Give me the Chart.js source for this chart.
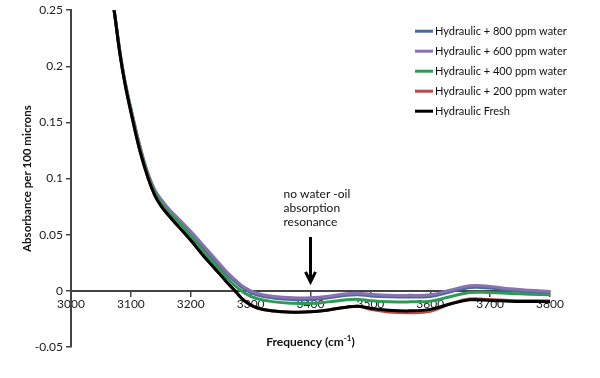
<!DOCTYPE html>
<html>
<head>
<meta charset="utf-8">
<script src="https://cdn.jsdelivr.net/npm/chart.js@4"></script>
<style>
  body { margin: 0; background: #fff; }
  #wrap { width: 600px; height: 378px; }
</style>
</head>
<body>
<div id="wrap"><canvas id="spectrum" width="600" height="378"></canvas></div>
<script>
// frequency (cm-1) and absorbance per 100 microns
const freq = [3066, 3072, 3082, 3090, 3101, 3115, 3129, 3140, 3150, 3165, 3180, 3200, 3220, 3240, 3260, 3274, 3290, 3310, 3340, 3370, 3400, 3430, 3460, 3480, 3500, 3530, 3566, 3600, 3633, 3666, 3700, 3733, 3766, 3800];

const ppm800 = [0.27, 0.25, 0.212, 0.187, 0.160, 0.129, 0.103, 0.089, 0.081, 0.070, 0.062, 0.051, 0.039, 0.027, 0.0155, 0.0085, 0.0015, -0.0035, -0.0065, -0.0077, -0.0076, -0.0062, -0.004, -0.0035, -0.0045, -0.0052, -0.0055, -0.005, -0.001, 0.003, 0.0025, 0.0003, -0.001, -0.002];
const ppm600 = [0.27, 0.25, 0.212, 0.187, 0.160, 0.129, 0.104, 0.090, 0.082, 0.072, 0.064, 0.053, 0.041, 0.029, 0.017, 0.010, 0.003, -0.002, -0.005, -0.0062, -0.0061, -0.0048, -0.0025, -0.0022, -0.003, -0.0038, -0.004, -0.0035, 0.0005, 0.0045, 0.004, 0.0018, 0.0005, -0.0005];
const ppm400 = [0.27, 0.25, 0.211, 0.186, 0.159, 0.127, 0.102, 0.088, 0.079, 0.069, 0.061, 0.049, 0.036, 0.024, 0.012, 0.0045, -0.002, -0.0068, -0.0098, -0.011, -0.0112, -0.0098, -0.008, -0.0076, -0.0088, -0.0098, -0.0098, -0.0092, -0.0052, -0.0015, -0.0015, -0.0023, -0.003, -0.0035];
const ppm200 = [0.27, 0.25, 0.21, 0.185, 0.157, 0.125, 0.100, 0.085, 0.076, 0.066, 0.057, 0.045, 0.032, 0.020, 0.008, 0.0, -0.009, -0.015, -0.018, -0.019, -0.0187, -0.017, -0.0145, -0.0137, -0.0165, -0.0188, -0.0195, -0.0182, -0.0117, -0.0073, -0.0078, -0.0085, -0.0088, -0.009];
const fresh = [0.27, 0.25, 0.21, 0.185, 0.157, 0.125, 0.100, 0.085, 0.076, 0.066, 0.057, 0.045, 0.032, 0.020, 0.008, 0.0, -0.009, -0.015, -0.018, -0.019, -0.0187, -0.017, -0.0145, -0.0137, -0.0155, -0.0172, -0.0178, -0.0165, -0.0117, -0.008, -0.0085, -0.0093, -0.0095, -0.0096];

const seriesNames = ['Hydraulic + 800 ppm water', 'Hydraulic + 600 ppm water', 'Hydraulic + 400 ppm water', 'Hydraulic + 200 ppm water', 'Hydraulic Fresh'];
const seriesData = [ppm800, ppm600, ppm400, ppm200, fresh];
const seriesColors = ['#4a6a9b', '#8a72b0', '#2f9a55', '#b84a4a', '#000000'];

const noteLines = ['no water -oil', 'absorption', 'resonance'];
const noteFreq = 3400;

const FONT = 'Lato, "Open Sans", sans-serif';

// legend drawn inside the plot, top right
const insideLegend = {
    id: 'insideLegend',
    afterDraw(chart) {
        const c = chart.ctx;
        const area = chart.chartArea;
        const x0 = area.right - 135;
        c.save();
        c.font = '11px ' + FONT;
        c.textBaseline = 'middle';
        c.fillStyle = '#111';
        chart.data.datasets.forEach((ds, i) => {
            const y = area.top + 21 + i * 20;
            c.strokeStyle = ds.borderColor;
            c.lineWidth = 3;
            c.beginPath();
            c.moveTo(x0, y);
            c.lineTo(x0 + 18, y);
            c.stroke();
            c.fillText(ds.label, x0 + 20, y);
        });
        c.restore();
    }
};

// the arrow with its note
const arrowNote = {
    id: 'arrowNote',
    afterDraw(chart) {
        const c = chart.ctx;
        const xs = chart.scales.x, ys = chart.scales.y;
        const x = xs.getPixelForValue(noteFreq);
        const yTop = ys.getPixelForValue(0.048);
        const yBot = ys.getPixelForValue(0.008);
        c.save();
        c.strokeStyle = '#000';
        c.lineWidth = 3;
        c.beginPath();
        c.moveTo(x, yTop);
        c.lineTo(x, yBot);
        c.moveTo(x - 5, yBot - 10);
        c.lineTo(x, yBot);
        c.lineTo(x + 5, yBot - 10);
        c.stroke();
        c.font = '12px ' + FONT;
        c.fillStyle = '#111';
        c.textBaseline = 'middle';
        noteLines.forEach((t, i) => {
            c.fillText(t, x - 27, yTop - 43 + i * 14);
        });
        c.restore();
    }
};

// x title sits at the bottom of the plot, not under the zero line
const xTitle = {
    id: 'xTitle',
    afterDraw(chart) {
        const c = chart.ctx;
        const area = chart.chartArea;
        const main = 'Frequency (cm', sup = '-1', tail = ')';
        c.save();
        c.fillStyle = '#111';
        c.textBaseline = 'middle';
        c.font = 'bold 12px ' + FONT;
        const w1 = c.measureText(main).width, w3 = c.measureText(tail).width;
        c.font = 'bold 8px ' + FONT;
        const w2 = c.measureText(sup).width;
        let x = (area.left + area.right) / 2 - (w1 + w2 + w3) / 2;
        const y = area.bottom - 5;
        c.font = 'bold 12px ' + FONT;
        c.fillText(main, x, y);
        x += w1;
        c.font = 'bold 8px ' + FONT;
        c.fillText(sup, x, y - 4);
        x += w2;
        c.font = 'bold 12px ' + FONT;
        c.fillText(tail, x, y);
        c.restore();
    }
};

const ctx = document.getElementById('spectrum').getContext('2d');
const chart = new Chart(ctx, {
    type: 'line',
    data: {
        datasets: seriesNames.map((name, i) => ({
            label: name,
            data: freq.map((f, j) => ({ x: f, y: seriesData[i][j] })),
            borderColor: seriesColors[i],
            borderWidth: 3,
            pointRadius: 0,
            tension: 0.4,
            fill: false,
            order: seriesNames.length - i
        }))
    },
    options: {
        responsive: false,
        animation: false,
        layout: { padding: { left: 0, right: 50, top: 5, bottom: 31 } },
        plugins: {
            legend: { display: false },
            tooltip: { enabled: false }
        },
        scales: {
            x: {
                type: 'linear',
                position: { y: 0 },
                min: 3000,
                max: 3800,
                grid: { drawOnChartArea: false, drawTicks: true, tickLength: 5, color: '#444', lineWidth: 1.5 },
                border: { color: '#444', width: 2 },
                ticks: {
                    stepSize: 100,
                    autoSkip: false,
                    maxRotation: 0,
                    padding: 1,
                    color: '#222',
                    font: { family: FONT, size: 12 },
                    callback: v => String(v)
                }
            },
            y: {
                min: -0.05,
                max: 0.25,
                afterFit: s => { s.width = 71; },
                grid: { drawOnChartArea: false, drawTicks: true, tickLength: 5, color: '#444', lineWidth: 1.5 },
                border: { color: '#444', width: 2 },
                ticks: {
                    stepSize: 0.05,
                    padding: 3,
                    color: '#222',
                    font: { family: FONT, size: 12 },
                    callback: v => String(+v.toFixed(2))
                },
                title: {
                    display: true,
                    text: 'Absorbance per 100 microns',
                    color: '#111',
                    font: { family: FONT, size: 11.5, weight: 'bold' },
                    padding: { top: 20, bottom: 0 }
                }
            }
        }
    },
    plugins: [insideLegend, arrowNote, xTitle]
});
</script>
</body>
</html>
